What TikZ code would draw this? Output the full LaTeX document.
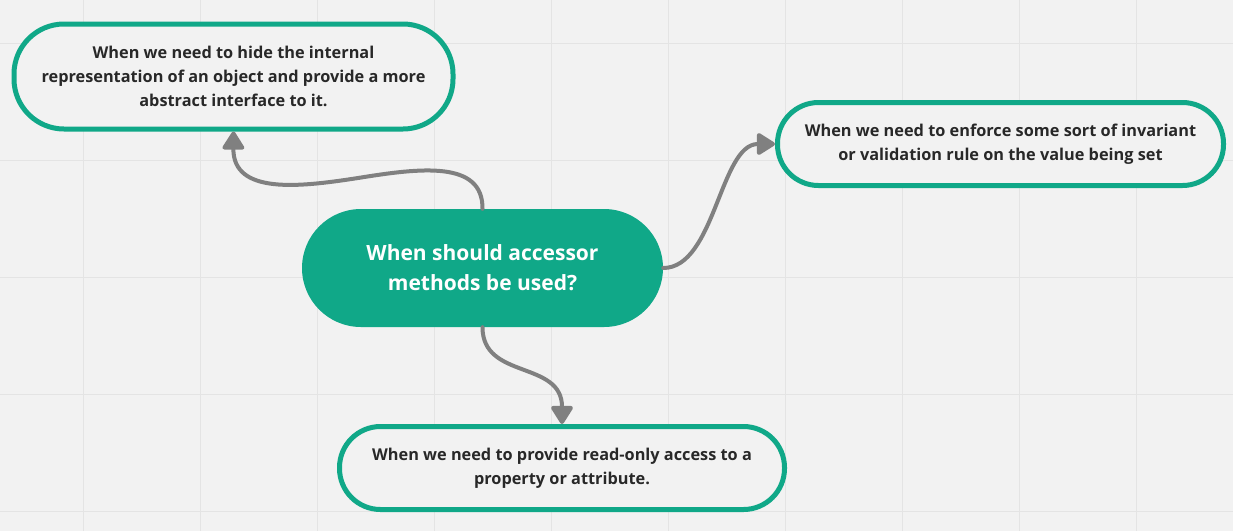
\documentclass[tikz,border=0pt]{standalone}
\usepackage{fontspec}
\setmainfont{Open Sans}
\usetikzlibrary{arrows.meta}
\definecolor{bgc}{RGB}{242,242,242}
\definecolor{gridc}{RGB}{228,228,228}
\definecolor{teal}{RGB}{16,168,136}
\definecolor{arrc}{RGB}{128,128,128}
\definecolor{txtc}{RGB}{40,40,40}
\tikzset{
  leaf/.style={draw=teal, line width=5pt, fill=bgc, rectangle, inner sep=0pt,
    text=txtc, align=center, font=\bfseries\fontsize{16.3}{24}\selectfont},
  hub/.style={fill=teal, rectangle, inner sep=0pt, text=white, align=center,
    font=\bfseries\fontsize{21}{30}\selectfont},
  conn/.style={draw=arrc, line width=4pt, line cap=round,
    -{Triangle[width=24pt,length=20pt,round]}},
}
\begin{document}
\begin{tikzpicture}[x=1pt,y=-1pt]
\useasboundingbox (0,0) rectangle (1233,531);
\fill[bgc] (0,0) rectangle (1233,531);
\foreach \i in {0,...,9} \draw[gridc, line width=1pt] (83+117*\i,0) -- (83+117*\i,531);
\foreach \j in {0,...,4} \draw[gridc, line width=1pt] (0,43+117*\j) -- (1233,43+117*\j);

\node[hub, minimum width=361pt, minimum height=118pt, rounded corners=59pt] (c) at (482.5,268)
  {When should accessor\\methods be used?};
\node[leaf, minimum width=439pt, minimum height=105pt, rounded corners=50pt] (tl) at (233.5,76.5)
  {When we need to hide the internal\\representation of an object and provide a more\\abstract interface to it.};
\node[leaf, minimum width=446pt, minimum height=83pt, rounded corners=41pt] (r) at (1000.5,144)
  {When we need to enforce some sort of invariant\\or validation rule on the value being set};
\node[leaf, minimum width=445pt, minimum height=83pt, rounded corners=41pt] (b) at (562,468)
  {When we need to provide read-only access to a\\property or attribute.};

\coordinate (m1) at (358,178);
\draw[conn] (c.north) .. controls (483,160) and (420,168) .. (m1)
  .. controls (300,187) and (233,195) .. (tl.south);
\draw[conn] (c.east) .. controls (715,268) and (720,144) .. (r.west);
\draw[conn] (c.south) .. controls (482.5,380) and (562,360) .. (b.north);
\end{tikzpicture}
\end{document}
